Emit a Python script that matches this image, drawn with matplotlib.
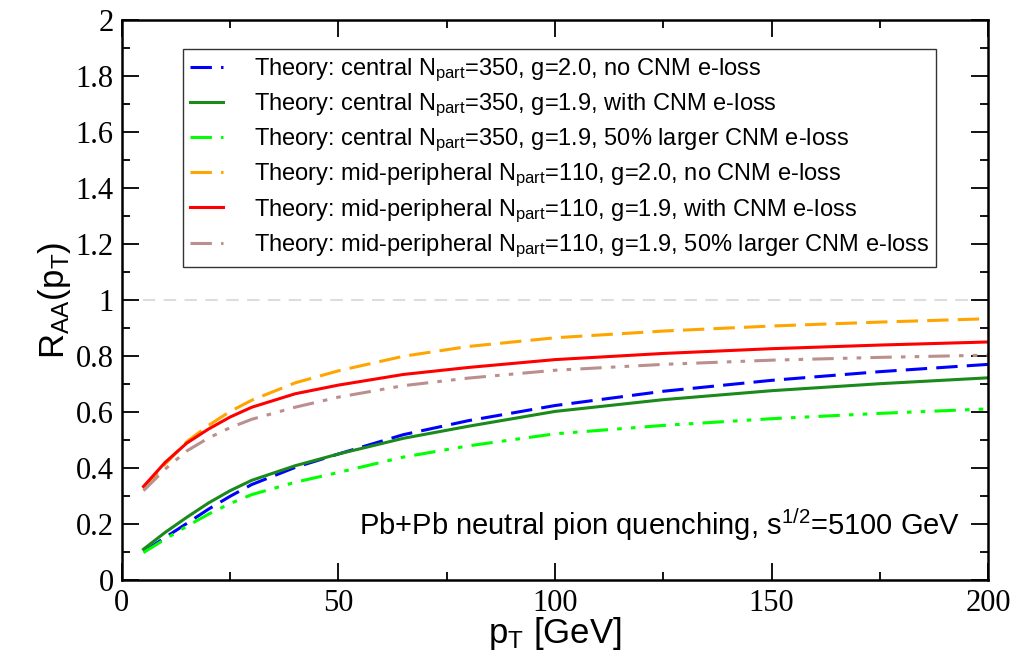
import matplotlib
matplotlib.use('Agg')
import matplotlib.pyplot as plt
from matplotlib.ticker import MultipleLocator

plt.rcParams['mathtext.fontset'] = 'custom'
plt.rcParams['mathtext.rm'] = 'Liberation Sans'
plt.rcParams['mathtext.it'] = 'Liberation Sans:italic'

# pT points
pt = [5, 10, 15, 20, 25, 30, 40, 50, 65, 80, 100, 125, 150, 175, 200]

central_g20 = [0.101, 0.153, 0.203, 0.254, 0.30, 0.342, 0.403, 0.451, 0.52, 0.57, 0.624, 0.675, 0.714, 0.745, 0.771]
central_g19 = [0.111, 0.171, 0.225, 0.276, 0.32, 0.357, 0.409, 0.451, 0.507, 0.55, 0.603, 0.645, 0.677, 0.702, 0.723]
central_g19_50 = [0.099, 0.147, 0.193, 0.236, 0.274, 0.306, 0.35, 0.385, 0.44, 0.48, 0.523, 0.553, 0.577, 0.596, 0.612]
midp_g20 = [0.326, 0.415, 0.495, 0.553, 0.603, 0.643, 0.705, 0.748, 0.80, 0.835, 0.866, 0.89, 0.908, 0.922, 0.934]
midp_g19 = [0.335, 0.421, 0.49, 0.54, 0.583, 0.618, 0.666, 0.697, 0.735, 0.76, 0.788, 0.81, 0.827, 0.84, 0.851]
midp_g19_50 = [0.32, 0.397, 0.462, 0.508, 0.545, 0.575, 0.618, 0.654, 0.695, 0.722, 0.75, 0.771, 0.786, 0.796, 0.804]

labels = [
    r'Theory: central $\mathrm{N_{part}}$=350, g=2.0, no CNM e-loss',
    r'Theory: central $\mathrm{N_{part}}$=350, g=1.9, with CNM e-loss',
    r'Theory: central $\mathrm{N_{part}}$=350, g=1.9, 50% larger CNM e-loss',
    r'Theory: mid-peripheral $\mathrm{N_{part}}$=110, g=2.0, no CNM e-loss',
    r'Theory: mid-peripheral $\mathrm{N_{part}}$=110, g=1.9, with CNM e-loss',
    r'Theory: mid-peripheral $\mathrm{N_{part}}$=110, g=1.9, 50% larger CNM e-loss',
]
series = [central_g20, central_g19, central_g19_50, midp_g20, midp_g19, midp_g19_50]
colors = ['#0000ff', '#1a8a1a', '#00ff00', '#ffa500', '#ff0000', '#bc8f8f']
dashes = [(7, 3), None, (7, 3, 1.5, 3, 1.5, 3), (7, 3), None, (7, 3, 1.5, 3, 1.5, 3)]

fig = plt.figure(figsize=(10.24, 6.52), dpi=100)
ax = fig.add_axes([0.119, 0.110, 0.846, 0.859])

ax.axhline(1.0, color='#dddddd', lw=1.5, dashes=(6, 4), zorder=1)

for y, c, d, lab in zip(series, colors, dashes, labels):
    if d is None:
        ax.plot(pt, y, color=c, lw=2.2, label=lab)
    else:
        ax.plot(pt, y, color=c, lw=2.2, dashes=d, label=lab)

ax.set_xlim(0, 200)
ax.set_ylim(0, 2)
ax.xaxis.set_minor_locator(MultipleLocator(25))
ax.yaxis.set_minor_locator(MultipleLocator(0.1))
ax.tick_params(which='both', direction='in', top=True, right=True, width=1.3)
ax.tick_params(which='major', length=12, labelsize=22, pad=6)
ax.tick_params(which='minor', length=6)
ax.set_xticks([0, 50, 100, 150, 200])
ax.set_xticklabels(['0', '50', '100', '150', '200'], family='Liberation Serif', fontsize=22)
ax.set_yticks([0, 0.2, 0.4, 0.6, 0.8, 1, 1.2, 1.4, 1.6, 1.8, 2])
ax.set_yticklabels(['0', '0.2', '0.4', '0.6', '0.8', '1', '1.2', '1.4', '1.6', '1.8', '2'],
                   family='Liberation Serif', fontsize=22)
for s in ax.spines.values():
    s.set_linewidth(1.8)

ax.set_xlabel(r'p$_\mathrm{T}$ [GeV]', fontsize=25, family='Liberation Sans', labelpad=-2)
ax.set_ylabel(r'R$_\mathrm{AA}$(p$_\mathrm{T}$)', fontsize=25, family='Liberation Sans', labelpad=2)

ax.text(193.5, 0.2, r'Pb+Pb neutral pion quenching, s$^\mathrm{1/2}$=5100 GeV',
        ha='right', va='center', fontsize=21, family='Liberation Sans')

leg = ax.legend(loc='upper left', bbox_to_anchor=(0.0704, 0.948),
                prop={'family': 'Liberation Sans', 'size': 17},
                frameon=True, fancybox=False, edgecolor='black', handlelength=1.4,
                labelspacing=0.33, borderpad=0.3, handletextpad=1.3, borderaxespad=0)
leg.get_frame().set_linewidth(1.0)

fig.savefig('out.png', dpi=100)
